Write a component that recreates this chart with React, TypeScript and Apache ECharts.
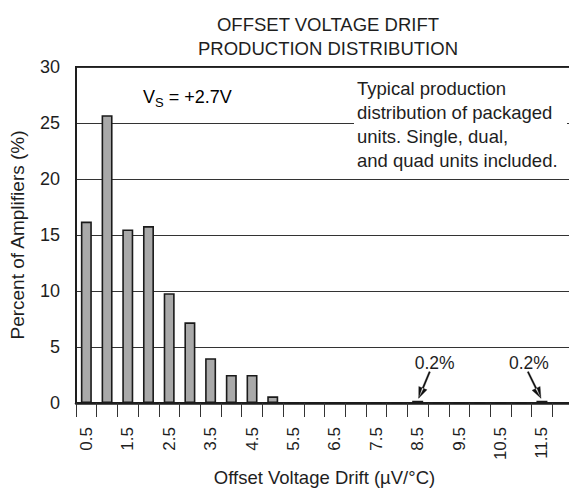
import React, { useEffect, useRef } from "react";
import * as echarts from "echarts";

const categories = [
  "0.5", "1.0", "1.5", "2.0", "2.5", "3.0", "3.5", "4.0", "4.5", "5.0", "5.5", "6.0",
  "6.5", "7.0", "7.5", "8.0", "8.5", "9.0", "9.5", "10.0", "10.5", "11.0", "11.5", "12.0",
];
const percent = [
  16.2, 25.7, 15.5, 15.8, 9.8, 7.2, 4.0, 2.5, 2.5, 0.6, 0, 0,
  0, 0, 0, 0, 0.2, 0, 0, 0, 0, 0, 0.2, null,
];
const yTicks = [0, 5, 10, 15, 20, 25, 30];
const titleLines = ["OFFSET VOLTAGE DRIFT", "PRODUCTION DISTRIBUTION"];
const noteLines = [
  "Typical production",
  "distribution of packaged",
  "units. Single, dual,",
  "and quad units included.",
];
const calloutCats = ["8.5", "11.5"];
const calloutValues = [0.2, 0.2];
const calloutTexts = ["0.2%", "0.2%"];
const calloutTextDx = [17, -13];
const calloutStartDx = [12, -14];

const FONT = "'Liberation Sans', Arial, Helvetica, sans-serif";
const INK = "#1e1e1e";

export default function App() {
  const ref = useRef<HTMLDivElement>(null);
  useEffect(() => {
    if (!ref.current) return;
    const chart = echarts.init(ref.current, null, { renderer: "svg" });
    const option: any = {
      animation: false,
      backgroundColor: "#ffffff",
      textStyle: { fontFamily: FONT, color: INK },
      title: {
        text: titleLines.join("\n"),
        left: 323,
        top: 7,
        textAlign: "center",
        textStyle: { fontFamily: FONT, fontSize: 18.5, fontWeight: "normal", color: INK, lineHeight: 24 },
      },
      grid: {
        left: 76,
        top: 67,
        right: -4,
        bottom: 86,
        show: true,
        borderWidth: 2,
        borderColor: INK,
        backgroundColor: "transparent",
        containLabel: false,
        outerBoundsMode: "none",
      },
      xAxis: {
        type: "category",
        data: categories,
        boundaryGap: true,
        name: "Offset Voltage Drift (\u00b5V/\u00b0C)",
        nameLocation: "middle",
        nameGap: 63,
        nameTextStyle: { fontFamily: FONT, fontSize: 18.5, color: INK },
        axisLine: { show: true, lineStyle: { color: INK, width: 2.5 } },
        axisTick: { show: true, interval: 0, length: 14, lineStyle: { color: "#333", width: 1 } },
        axisLabel: {
          interval: 1,
          rotate: 90,
          margin: 24,
          fontFamily: FONT,
          fontSize: 17,
          color: INK,
        },
        splitLine: { show: false },
      },
      yAxis: {
        type: "value",
        min: 0,
        max: 30,
        interval: 5,
        name: "Percent of Amplifiers (%)",
        nameLocation: "middle",
        nameGap: 49,
        nameTextStyle: { fontFamily: FONT, fontSize: 19, color: INK },
        axisLine: { show: true, lineStyle: { color: INK, width: 2 } },
        axisTick: { show: false },
        axisLabel: {
          margin: 16,
          fontFamily: FONT,
          fontSize: 18,
          color: INK,
          formatter: (v: number) => (yTicks.includes(v) ? String(v) : ""),
        },
        splitLine: { show: true, lineStyle: { color: "#333", width: 1 } },
      },
      series: [
        {
          type: "bar",
          data: percent,
          barWidth: 11,
          itemStyle: { color: "#a9a9a9", borderColor: "#1a1a1a", borderWidth: 1.6 },
        },
      ],
    };
    chart.setOption(option);

    const graphics: any[] = [];
    graphics.push({
      type: "rect",
      shape: { x: 354, y: 72, width: 213, height: 102 },
      style: { fill: "#ffffff" },
      z: 50,
    });
    graphics.push({
      type: "text",
      x: 357,
      y: 76,
      z: 51,
      style: {
        text: noteLines.join("\n"),
        font: `18.5px ${FONT}`,
        fill: INK,
        lineHeight: 24,
        verticalAlign: "top",
      },
    });
    graphics.push({
      type: "text",
      x: 143,
      y: 97,
      z: 51,
      style: {
        text: "{v|V}{s|S}{v| = +2.7V}",
        verticalAlign: "middle",
        rich: {
          v: { fontFamily: FONT, fontSize: 18, color: INK },
          s: { fontFamily: FONT, fontSize: 13, color: INK, padding: [10, 0, 0, 0] },
        },
      },
    });
    calloutCats.forEach((c, i) => {
      const p = chart.convertToPixel({ gridIndex: 0 }, [c, calloutValues[i]]) as number[];
      const bx = p[0];
      const top = p[1] - 1;
      const tipX = bx + (i === 0 ? 1 : -1);
      const tipY = top - 1.5;
      const sx = bx + calloutStartDx[i];
      const sy = top - 28;
      graphics.push({
        type: "text",
        x: bx + calloutTextDx[i],
        y: top - 37,
        z: 51,
        style: {
          text: calloutTexts[i],
          font: `17.5px ${FONT}`,
          fill: INK,
          align: "center",
          verticalAlign: "middle",
        },
      });
      const ang = Math.atan2(tipY - sy, tipX - sx);
      const L = 11;
      const W = 4.5;
      const S = 0.8;
      const baseX = tipX - L * Math.cos(ang);
      const baseY = tipY - L * Math.sin(ang);
      const nx = -Math.sin(ang);
      const ny = Math.cos(ang);
      graphics.push({
        type: "polygon",
        z: 52,
        shape: {
          points: [
            [sx + nx * S, sy + ny * S],
            [baseX + nx * S, baseY + ny * S],
            [tipX, tipY],
            [baseX + nx * W, baseY + ny * W],
            [baseX - nx * W, baseY - ny * W],
            [tipX, tipY],
            [baseX - nx * S, baseY - ny * S],
            [sx - nx * S, sy - ny * S],
          ],
        },
        style: { fill: "#111", stroke: "#111", lineWidth: 0.3 },
      });
    });
    chart.setOption({ graphic: graphics });

    return () => chart.dispose();
  }, []);
  return (
    <div
      ref={ref}
      style={{ position: "fixed", left: 0, top: 0, width: 569, height: 489, background: "#fff" }}
    />
  );
}
